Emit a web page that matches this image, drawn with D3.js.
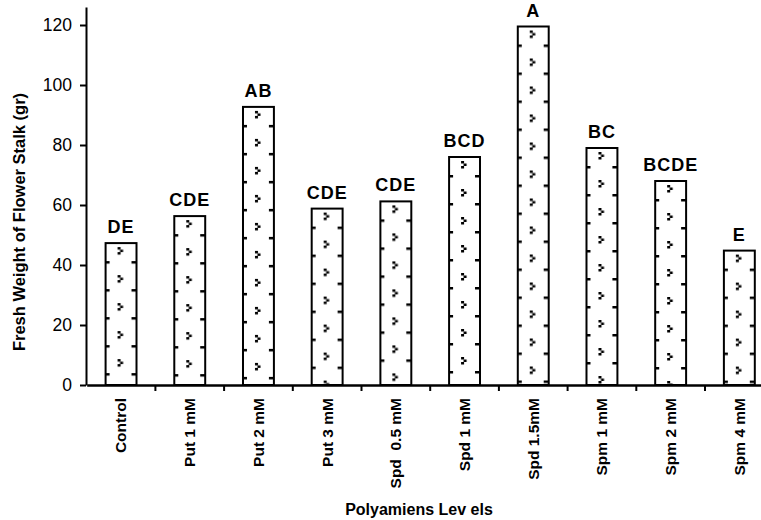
<!DOCTYPE html>
<html>
<head>
<meta charset="utf-8">
<script src="https://cdn.jsdelivr.net/npm/d3@7"></script>
<style>
  body { margin: 0; background: #fff; }
  svg { display: block; font-family: "Liberation Sans", Arial, sans-serif; }
  .letter { font-size: 18px; font-weight: bold; letter-spacing: 1px; }
  .xlab text { font-size: 15.5px; font-weight: bold; white-space: pre; }
  .ylab text { font-size: 17.5px; }
  .title { font-size: 16px; font-weight: bold; }
</style>
</head>
<body>
<script>
// chart data
var categories = ["Control", "Put 1 mM", "Put 2 mM", "Put 3 mM", "Spd  0.5 mM",
                  "Spd 1 mM", "Spd 1.5mM", "Spm 1 mM", "Spm 2 mM", "Spm 4 mM"];
var weights = [47.3, 56.3, 92.7, 58.8, 61.2, 76, 119.5, 79, 68, 44.8];
var letters = ["DE", "CDE", "AB", "CDE", "CDE", "BCD", "A", "BC", "BCDE", "E"];
var yTicks = [0, 20, 40, 60, 80, 100, 120];

var width = 761, height = 520;
var plotLeft = 86, plotBottom = 385, plotTop = 7;
var step = 68.7;

var svg = d3.select("body").append("svg")
    .attr("width", width)
    .attr("height", height);

var x = d3.scaleBand()
    .domain(categories)
    .range([plotLeft + 0.7, plotLeft + 0.7 + step * categories.length])
    .paddingInner(0.55)
    .paddingOuter(0.275);

var y = d3.scaleLinear()
    .domain([0, 126])
    .range([plotBottom, plotTop]);

var bw = x.bandwidth();

// one dotted pattern per bar so the marks start at each bar top
var defs = svg.append("defs");
categories.forEach(function(c, i) {
    var p = defs.append("pattern")
        .attr("id", "dots" + i)
        .attr("patternUnits", "userSpaceOnUse")
        .attr("x", x(c))
        .attr("y", y(weights[i]))
        .attr("width", bw)
        .attr("height", 28);
    p.append("rect").attr("width", bw).attr("height", 28).attr("fill", "#fff");
    // the little ">" mark
    p.append("rect").attr("x", 12).attr("y", 4).attr("width", 3).attr("height", 2.5).attr("fill", "#000");
    p.append("rect").attr("x", 14.5).attr("y", 6.5).attr("width", 3).attr("height", 2.5).attr("fill", "#000");
    p.append("rect").attr("x", 12).attr("y", 9).attr("width", 3).attr("height", 2.5).attr("fill", "#000");
    // edge dashes
    p.append("rect").attr("x", 0).attr("y", 18).attr("width", 4).attr("height", 2.5).attr("fill", "#000");
    p.append("rect").attr("x", bw - 5).attr("y", 18).attr("width", 5).attr("height", 2.5).attr("fill", "#000");
});

// bars
svg.selectAll(".bar")
    .data(weights)
    .enter()
  .append("rect")
    .attr("class", "bar")
    .attr("x", function(d, i) { return x(categories[i]); })
    .attr("y", function(d) { return y(d); })
    .attr("width", bw)
    .attr("height", function(d) { return y(0) - y(d); })
    .attr("fill", function(d, i) { return "url(#dots" + i + ")"; })
    .attr("stroke", "#000")
    .attr("stroke-width", 2);

// significance letters
svg.selectAll(".letter")
    .data(letters)
    .enter()
  .append("text")
    .attr("class", "letter")
    .attr("x", function(d, i) { return x(categories[i]) + bw / 2; })
    .attr("y", function(d, i) { return y(weights[i]) - 10; })
    .attr("text-anchor", "middle")
    .text(function(d) { return d; });

// y axis
var yAxis = svg.append("g")
    .attr("class", "ylab")
    .attr("transform", "translate(" + plotLeft + ",0)")
    .call(d3.axisLeft(y).tickValues(yTicks).tickSize(6).tickSizeOuter(0).tickPadding(8));
yAxis.select(".domain").attr("stroke-width", 2);
yAxis.selectAll(".tick line").attr("stroke-width", 2);
yAxis.selectAll("text").attr("fill", "#000");

// x axis, labels rotated, ticks between the bars
var xAxis = svg.append("g")
    .attr("class", "xlab")
    .attr("transform", "translate(0," + plotBottom + ")")
    .call(d3.axisBottom(x).tickSize(0).tickSizeOuter(0));
xAxis.select(".domain").attr("stroke-width", 2.5);
xAxis.selectAll("text")
    .attr("transform", "rotate(-90)")
    .attr("x", -13)
    .attr("y", 0)
    .attr("dy", "0.35em")
    .attr("fill", "#000")
    .style("text-anchor", "end");

svg.append("g").selectAll("line")
    .data(categories)
    .enter()
  .append("line")
    .attr("x1", function(d) { return x(d) + bw + (x.step() - bw) / 2; })
    .attr("x2", function(d) { return x(d) + bw + (x.step() - bw) / 2; })
    .attr("y1", plotBottom)
    .attr("y2", plotBottom + 6)
    .attr("stroke", "#000")
    .attr("stroke-width", 2);

// axis titles
svg.append("text")
    .attr("class", "title")
    .attr("transform", "translate(25,222) rotate(-90)")
    .attr("text-anchor", "middle")
    .style("font-size", "16.5px")
    .text("Fresh Weight of Flower Stalk (gr)");

svg.append("text")
    .attr("class", "title")
    .attr("x", 419)
    .attr("y", 515)
    .attr("text-anchor", "middle")
    .text("Polyamiens Lev els");
</script>
</body>
</html>
